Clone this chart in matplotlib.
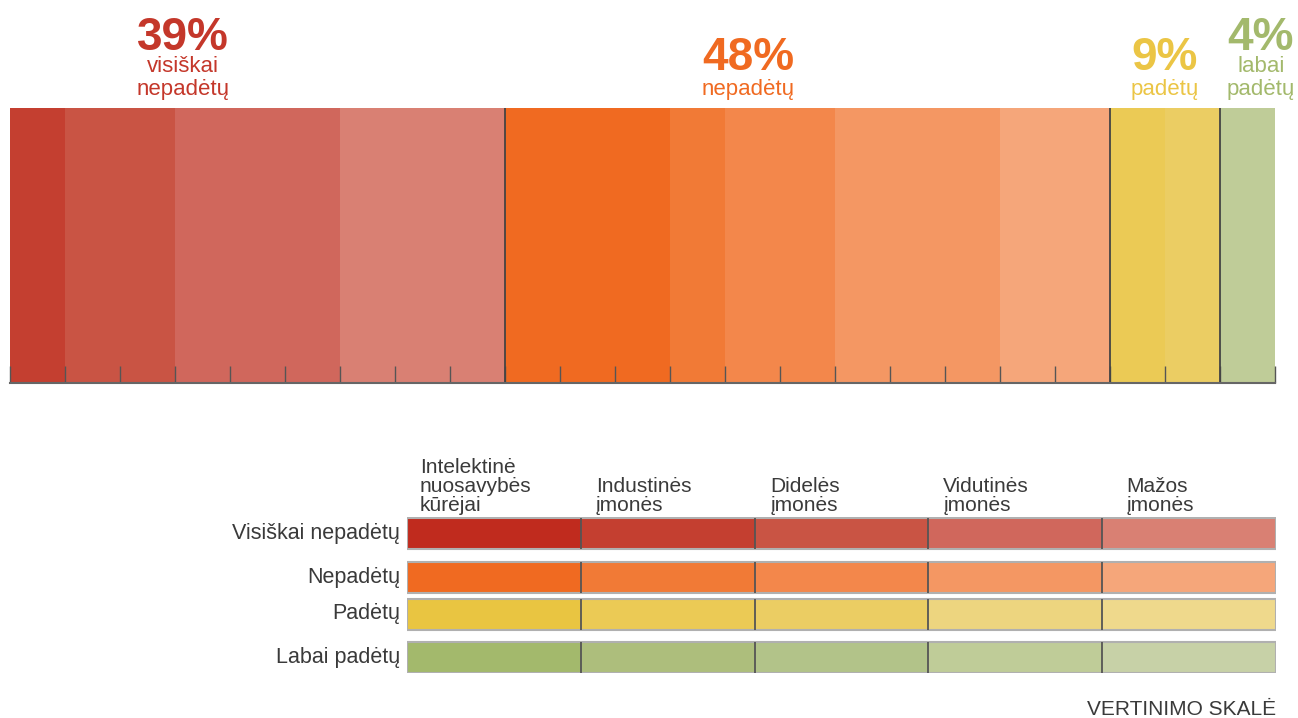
import matplotlib.pyplot as plt
import numpy as np

plt.rcParams['font.family'] = ['Liberation Sans', 'DejaVu Sans']

W, H = 1298, 718  # paveikslo dydis pikseliais

# vertinimo skalė ir įmonių grupės
ratings = ['Visiškai nepadėtų', 'Nepadėtų', 'Padėtų', 'Labai padėtų']
top_labels = [['visiškai', 'nepadėtų'], ['nepadėtų'], ['padėtų'], ['labai', 'padėtų']]
groups = [['Intelektinė', 'nuosavybės', 'kūrėjai'], ['Industinės', 'įmonės'],
          ['Didelės', 'įmonės'], ['Vidutinės', 'įmonės'], ['Mažos', 'įmonės']]

# atsakymų skaičius pagal įmonių grupę (ta pati tvarka kaip groups)
cnt_visiskai_nepadetu = [0, 1, 2, 3, 3]
cnt_nepadetu = [3, 1, 2, 3, 2]
cnt_padetu = [0, 1, 1, 0, 0]
cnt_labai_padetu = [0, 0, 0, 1, 0]
counts = [cnt_visiskai_nepadetu, cnt_nepadetu, cnt_padetu, cnt_labai_padetu]

# spalvos
reds = ['#C02B1E', '#C43F30', '#C95444', '#D0675C', '#D98073']
oranges = ['#F06A21', '#F17A36', '#F3874B', '#F49763', '#F5A67A']
yellows = ['#E9C541', '#EBCA55', '#EBCD63', '#EDD57F', '#EFD98C']
greens = ['#A3B96C', '#ADBE7C', '#B2C389', '#BFCC98', '#C7D1A7']
shades = [reds, oranges, yellows, greens]
label_colors = ['#C4372A', '#F06A21', '#EBC545', '#A3B96C']
txt = '#3a3a3a'


def fx(x):
    return x / W


def fy(y):
    return 1 - y / H


fig = plt.figure(figsize=(W / 100, H / 100), dpi=100)

# --- pagrindinė juosta ---
ax = fig.add_axes([fx(10), fy(383), 1265 / W, 275 / H])
total = sum(sum(c) for c in counts)
left = 0
for cnts, cols in zip(counts, shades):
    for n, col in zip(cnts, cols):
        if n:
            ax.barh(0.5, n, left=left, height=1, color=col, linewidth=0)
            left += n
bounds = np.cumsum([sum(c) for c in counts])[:-1]
for b in bounds:
    ax.axvline(b, color='#444444', lw=1.3)
ax.set_xlim(0, total)
ax.set_ylim(0, 1)
ax.set_xticks(np.arange(total + 1))
ax.set_yticks([])
ax.tick_params(axis='x', direction='in', length=12.3, width=1, color='#555555',
               labelbottom=False)
for s in ['top', 'left', 'right']:
    ax.spines[s].set_visible(False)
ax.spines['bottom'].set_color('#666666')
ax.spines['bottom'].set_linewidth(1.5)

# procentai virš juostos
pct_x = [183, 748, 1165, 1261]
pct_base = [50, 70, 70, 50]
for i, cnts in enumerate(counts):
    pct = round(100 * sum(cnts) / total)
    fig.text(fx(pct_x[i]), fy(pct_base[i]), f'{pct}%', ha='center', va='baseline',
             fontsize=33, fontweight='bold', color=label_colors[i])
    # va='baseline' lygiuoja paskutinę eilutę
    fig.text(fx(pct_x[i]), fy(95), '\n'.join(top_labels[i]), ha='center',
             va='baseline', fontsize=16, color=label_colors[i], linespacing=1.15)

# --- vertinimo skalė (legenda) ---
lax = fig.add_axes([fx(407), fy(673), (1276 - 407) / W, (673 - 517) / H])
lax.set_xlim(0, 5)
lax.set_ylim(673, 517)
row_y = [533.5, 577, 614, 657.5]
row_h = 31
cols_x = np.arange(5)
for r in range(4):
    lax.barh(row_y[r], [1] * 5, left=cols_x, height=row_h, color=shades[r], linewidth=0)
    lax.barh(row_y[r], 5, left=0, height=row_h, fill=False, edgecolor='#b0b0b0',
             linewidth=1.5)
    lax.vlines(cols_x[1:], row_y[r] - row_h / 2, row_y[r] + row_h / 2,
               color='#555555', lw=1.3)
    lax.text(-0.04, row_y[r], ratings[r], ha='right', va='center', fontsize=15.5,
             color=txt)
lax.axis('off')

col_w = (1276 - 407) / 5
head_off = [13, 15, 16, 15, 24]
for c, lines in enumerate(groups):
    lax.text(c + head_off[c] / col_w, 511, '\n'.join(lines), ha='left', va='baseline',
             fontsize=15, color=txt, linespacing=1.0)

fig.text(fx(1276), fy(715), 'VERTINIMO SKALĖ', ha='right', va='baseline',
         fontsize=15, color=txt)

fig.savefig('out.png', dpi=100)
